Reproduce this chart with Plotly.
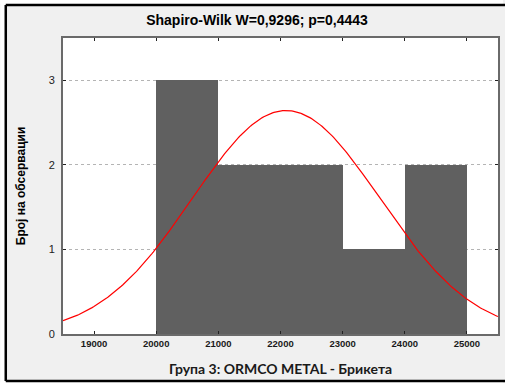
import numpy as np
import plotly.graph_objects as go

# Histogram bins (lower edge, upper edge) and counts
bin_lower = [20000, 21000, 22000, 23000, 24000]
bin_upper = [21000, 22000, 23000, 24000, 25000]
counts = [3, 2, 2, 1, 2]

# Fitted normal curve parameters
fit_mean = 22090
fit_sd = 1510
bin_width = 1000

x_ticks = [19000, 20000, 21000, 22000, 23000, 24000, 25000]
y_ticks = [0, 1, 2, 3]

title_text = "Shapiro-Wilk W=0,9296; p=0,4443"
x_title = "Група 3: ORMCO METAL - Брикета"
y_title = "Број на обсервации"

n_obs = sum(counts)
centers = [(a + b) / 2 for a, b in zip(bin_lower, bin_upper)]
widths = [b - a for a, b in zip(bin_lower, bin_upper)]

xc = np.linspace(18500, 25500, 300)
yc = n_obs * bin_width / (fit_sd * np.sqrt(2 * np.pi)) * np.exp(-0.5 * ((xc - fit_mean) / fit_sd) ** 2)

fig = go.Figure()
fig.add_trace(go.Bar(x=centers, y=counts, width=widths,
                     marker=dict(color="#606060", line=dict(width=0)),
                     showlegend=False, hoverinfo="skip"))
fig.add_trace(go.Scatter(x=xc, y=yc, mode="lines",
                         line=dict(color="#ff0000", width=1.2),
                         showlegend=False, hoverinfo="skip"))

W, H = 505, 383
L, R, T, B = 63, 5, 38, 49
pw, ph = W - L - R, H - T - B

def px_x(p):
    return (p - L) / pw

def px_y(p):
    return 1 - (p - T) / ph

shapes = [
    # white strips outside the outer frame
    dict(type="rect", xref="paper", yref="paper", x0=px_x(0), x1=px_x(5), y0=px_y(383), y1=px_y(0),
         fillcolor="white", line=dict(width=0), layer="above"),
    dict(type="rect", xref="paper", yref="paper", x0=px_x(0), x1=px_x(505), y0=px_y(4), y1=px_y(0),
         fillcolor="white", line=dict(width=0), layer="above"),
    dict(type="rect", xref="paper", yref="paper", x0=px_x(0), x1=px_x(505), y0=px_y(383), y1=px_y(382),
         fillcolor="white", line=dict(width=0), layer="above"),
    # outer frame lines
    dict(type="line", xref="paper", yref="paper", x0=px_x(5.5), x1=px_x(510), y0=px_y(5), y1=px_y(5),
         line=dict(color="black", width=2.5), layer="above"),
    dict(type="line", xref="paper", yref="paper", x0=px_x(5.5), x1=px_x(5.5), y0=px_y(5), y1=px_y(381),
         line=dict(color="black", width=2.5), layer="above"),
    dict(type="line", xref="paper", yref="paper", x0=px_x(5.5), x1=px_x(510), y0=px_y(381), y1=px_y(381),
         line=dict(color="black", width=2.5), layer="above"),
]

annotations = [
    dict(text=y_title, textangle=-90, xref="paper", yref="paper", x=px_x(21), y=0.5,
         xanchor="center", yanchor="middle", showarrow=False,
         font=dict(family="Liberation Sans, Arial", size=12, color="black", weight="bold")),
    dict(text=x_title, xref="paper", yref="paper", x=0.5, y=px_y(368),
         xanchor="center", yanchor="middle", showarrow=False,
         font=dict(family="Lato", size=14, color="#1a1a1a", weight="bold")),
]

fig.update_layout(
    width=W, height=H,
    margin=dict(l=L, r=R, t=T, b=B, pad=0),
    paper_bgcolor="#f0f0f0",
    plot_bgcolor="white",
    bargap=0,
    title=dict(text=title_text, x=257 / W, y=1 - 20.5 / H, xref="container", yref="container",
               xanchor="center", yanchor="middle",
               font=dict(family="Liberation Sans, Arial", size=14, color="black", weight="bold")),
    xaxis=dict(range=[18500, 25500], tickvals=x_ticks, ticktext=[str(v) for v in x_ticks],
               ticks="inside", ticklen=3, tickcolor="#222222", tickwidth=1,
               showline=True, linecolor="#6a6a6a", linewidth=2, mirror="ticks",
               showgrid=False, zeroline=False,
               tickfont=dict(family="Liberation Sans, Arial", size=9.5, color="#1a1a1a", weight="bold")),
    yaxis=dict(range=[0, 3.5], tickvals=y_ticks, ticktext=[str(v) for v in y_ticks],
               ticks="inside", ticklen=3, tickcolor="#222222", tickwidth=1,
               showline=True, linecolor="#6a6a6a", linewidth=2, mirror="ticks",
               showgrid=True, gridcolor="#b4b4b4", gridwidth=1, griddash="dot",
               zeroline=False, ticklabelstandoff=4,
               tickfont=dict(family="Liberation Sans, Arial", size=11, color="#222222")),
    shapes=shapes,
    annotations=annotations,
)

fig.write_html("out.html")
